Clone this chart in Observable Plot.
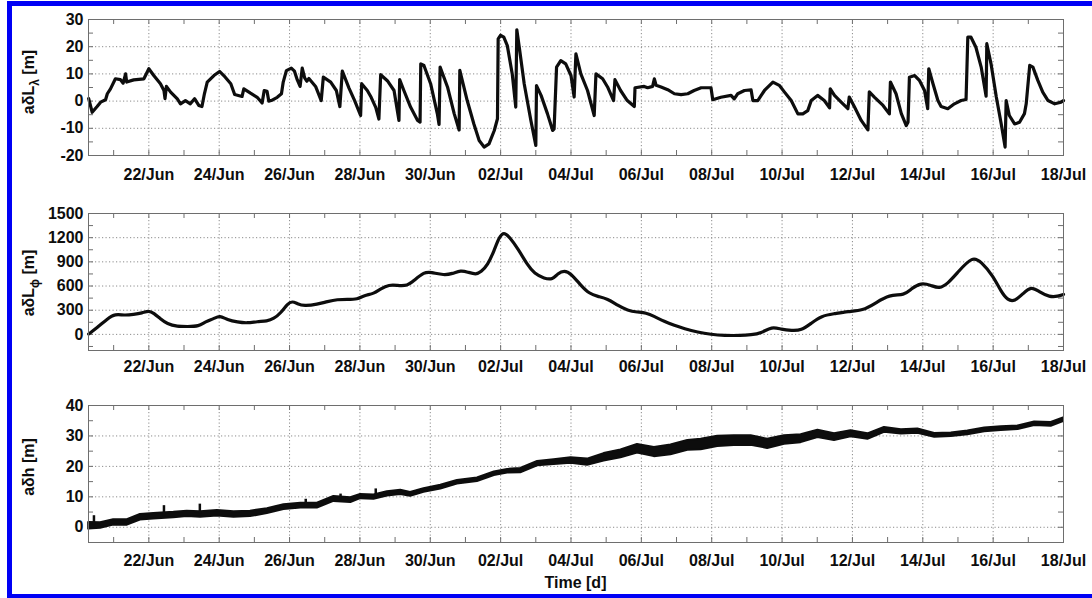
<!DOCTYPE html>
<html><head><meta charset="utf-8">
<script src="https://cdn.jsdelivr.net/npm/d3@7"></script>
<script src="https://cdn.jsdelivr.net/npm/@observablehq/plot@0.6"></script>
<style>
html,body{margin:0;padding:0;background:#fff;}
#wrap{position:relative;width:1092px;height:598px;overflow:hidden;font-family:"Liberation Sans",Arial,sans-serif;}
.panel{position:absolute;left:0;}
#wrap svg text{font-family:"Liberation Sans",Arial,Helvetica,sans-serif !important;font-size:16px !important;font-weight:bold !important;}
#frame{position:absolute;left:7px;top:1px;width:1200px;height:598px;border:5px solid #0000f5;box-sizing:border-box;pointer-events:none;}
</style></head>
<body><div id="wrap">
<div id="p1" class="panel" style="top:0px"></div>
<div id="p2" class="panel" style="top:190px"></div>
<div id="p3" class="panel" style="top:390px"></div>
<div id="frame"></div>
</div>
<script>
// ---- time axis (decimal "June day": 32 = 02 Jul) ----
const xTickDays = [22,24,26,28,30,32,34,36,38,40,42,44,46,48];
const xTickLabels = ["22/Jun","24/Jun","26/Jun","28/Jun","30/Jun","02/Jul","04/Jul","06/Jul","08/Jul","10/Jul","12/Jul","14/Jul","16/Jul","18/Jul"];
const xStart = 20.285, xEnd = 48.0;

// ---- panel 1: a·δL_λ [m] ----
const lonT = [20.29,20.39,20.53,20.63,20.77,20.82,20.91,21.05,21.19,21.27,21.34,21.37,21.57,21.86,22.0,22.14,22.33,22.43,22.46,22.50,22.62,22.81,22.90,23.04,23.18,23.30,23.42,23.51,23.58,23.66,23.85,24.01,24.13,24.33,24.44,24.65,24.70,24.89,25.08,25.22,25.28,25.36,25.41,25.48,25.65,25.77,25.82,25.91,26.05,26.14,26.22,26.30,26.36,26.43,26.49,26.55,26.74,26.90,26.96,27.17,27.33,27.43,27.50,27.69,27.85,28.02,28.05,28.21,28.32,28.45,28.54,28.59,28.78,28.97,29.11,29.13,29.25,29.44,29.64,29.71,29.73,29.82,30.01,30.20,30.25,30.28,30.49,30.68,30.82,30.84,31.05,31.24,31.39,31.53,31.67,31.82,31.91,31.93,32.0,32.09,32.19,32.33,32.43,32.46,32.53,32.67,32.86,33.0,33.02,33.15,33.33,33.48,33.52,33.59,33.71,33.85,34.0,34.09,34.14,34.28,34.47,34.66,34.71,34.90,35.04,35.21,35.25,35.41,35.60,35.80,35.82,36.08,36.18,36.32,36.37,36.42,36.56,36.75,36.94,37.13,37.32,37.5,37.70,37.98,38.03,38.26,38.55,38.64,38.74,38.93,39.12,39.17,39.31,39.50,39.74,39.92,40.07,40.26,40.45,40.59,40.73,40.83,41.01,41.20,41.35,41.37,41.49,41.68,41.87,41.91,42.06,42.25,42.44,42.48,42.63,42.87,43.05,43.08,43.24,43.39,43.53,43.58,43.62,43.77,43.91,44.05,44.14,44.17,44.29,44.43,44.52,44.71,44.90,45.09,45.23,45.28,45.37,45.51,45.66,45.80,45.82,45.94,46.09,46.23,46.34,46.37,46.46,46.61,46.75,46.89,46.94,47.04,47.13,47.27,47.41,47.56,47.75,47.93,48.0];
const lonV = [0.9,-4.1,-2.0,-0.4,0.5,2.7,4.5,8.2,7.9,6.6,10.0,7.0,7.8,8.2,11.9,9.4,6.4,3.9,0.9,5.4,3.3,0.8,-1.0,0.2,-1.0,0.9,-1.6,-2.0,2.7,7.0,9.4,10.9,9.4,6.4,2.4,1.7,4.5,2.9,1.4,-0.7,3.9,3.6,0.0,0.2,1.4,2.7,7.0,11.2,12.1,11.0,7.8,5.4,12.1,8.5,7.3,8.3,5.4,0.2,8.8,7.0,3.9,-2.0,11.0,4.8,0.2,-5.3,6.4,3.9,1.4,-2.3,-6.6,9.7,7.5,3.9,-7.1,7.9,3.9,-2.2,-7.1,-7.7,13.7,13.1,6.4,-4.6,-8.6,12.5,5.2,-4.6,-10.6,11.3,0.2,-8.4,-14.5,-16.9,-15.7,-10.8,-6.5,22.9,24.2,23.5,20.4,10.0,-2.2,26.2,19.8,6.4,-7.1,-16.3,5.7,2.1,-4.6,-10.8,-10.2,12.5,14.9,13.7,9.4,1.5,17.4,10.0,3.9,-5.3,10.0,8.2,5.2,0.2,7.9,3.9,0.2,-2.0,4.9,5.4,4.9,5.4,8.2,5.8,5.2,4.2,2.7,2.4,2.7,3.9,4.9,4.9,0.5,1.4,2.1,0.8,2.7,3.9,4.1,0.2,0.2,3.9,7.0,5.8,3.3,0.2,-4.7,-4.7,-3.5,0.2,2.1,0.2,-2.5,4.5,2.1,-0.4,-2.8,1.5,-2.2,-7.1,-10.6,3.4,1.4,-1.6,-4.7,7.0,2.7,-4.6,-9.0,-7.8,8.8,9.4,7.5,3.9,-2.8,11.9,6.4,0.2,-2.0,-2.8,-1.0,0.2,0.6,23.5,23.5,19.8,12.5,1.8,21.1,13.7,1.5,-8.4,-16.9,0.2,-5.3,-8.4,-7.8,-4.6,-1.0,13.1,12.5,7.6,3.3,0.2,-1.0,-0.4,0.2];
const lonYMajor = [-20,-10,0,10,20,30];
const lonYLabels = ["-20","-10","0","10","20","30"];

// ---- panel 2: a·δL_φ [m] ----
const latT = [20.29,20.53,20.82,21.05,21.29,21.57,21.81,22.0,22.14,22.33,22.52,22.81,23.09,23.42,23.61,23.85,24.01,24.23,24.52,24.80,25.08,25.36,25.55,25.75,25.94,26.08,26.22,26.41,26.79,27.08,27.36,27.64,27.93,28.12,28.40,28.59,28.83,29.06,29.35,29.54,29.83,30.01,30.39,30.63,30.87,31.06,31.30,31.44,31.63,31.82,31.96,32.09,32.25,32.49,32.77,32.96,33.24,33.48,33.62,33.81,34.0,34.28,34.52,34.76,35.04,35.33,35.61,35.89,36.13,36.37,36.65,36.94,37.22,37.60,37.98,38.36,38.83,39.12,39.40,39.71,39.98,40.27,40.55,40.83,41.12,41.49,41.87,42.30,42.63,43.05,43.48,43.67,43.95,44.24,44.47,44.71,45.0,45.42,45.66,45.99,46.23,46.42,46.61,46.85,47.08,47.32,47.60,47.84,48.0];
const latV = [5,82,194,256,235,247,264,297,264,194,131,98,98,98,160,194,235,182,152,139,160,164,194,264,380,413,380,351,372,409,434,434,434,484,505,567,617,608,600,670,774,774,733,754,795,774,741,774,857,1044,1209,1271,1209,1065,857,754,692,679,754,795,754,608,505,471,443,359,297,276,268,223,160,111,70,27,-1,-14,-14,-5,12,98,61,48,48,139,231,256,285,297,380,496,484,567,642,608,567,629,774,973,898,733,525,422,409,505,600,525,463,471,496];
const latYMajor = [0,300,600,900,1200,1500];
const latYLabels = ["0","300","600","900","1200","1500"];

// ---- panel 3: a·δh [m] (centre of the noisy band and its half width) ----
const hT = [20.29,20.63,21.0,21.39,21.76,22.14,22.71,23.09,23.47,23.95,24.42,24.89,25.37,25.84,26.32,26.79,27.26,27.74,28.02,28.40,28.78,29.16,29.44,29.82,30.30,30.77,31.34,31.82,32.20,32.57,33.05,33.52,34.0,34.47,34.94,35.42,35.89,36.37,36.84,37.32,37.70,38.17,38.64,39.12,39.59,40.07,40.54,41.02,41.49,41.96,42.44,42.91,43.39,43.86,44.34,44.81,45.28,45.76,46.23,46.71,47.18,47.65,48.0];
const hV = [0.5,0.6,1.6,1.6,3.3,3.6,4.0,4.4,4.2,4.6,4.2,4.4,5.3,6.6,7.1,7.1,9.3,8.9,10.1,9.9,11.0,11.5,10.8,12.1,13.2,14.8,15.6,17.6,18.4,18.6,20.9,21.4,21.9,21.4,23.0,24.1,25.8,24.7,25.4,26.9,27.2,28.2,28.5,28.5,27.4,28.7,29.1,30.7,29.6,30.7,29.8,32.0,31.3,31.6,30.2,30.4,31.0,32.0,32.4,32.7,34.0,33.8,35.3];
const hW = [1.1,0.9,0.9,0.9,0.9,0.9,0.9,0.9,0.9,0.9,0.9,0.9,0.8,0.8,0.8,0.8,0.8,0.8,0.7,0.7,0.7,0.7,0.6,0.6,0.6,0.6,0.6,0.6,0.6,0.7,0.7,0.8,0.9,1.0,1.2,1.3,1.4,1.5,1.6,1.6,1.7,1.7,1.6,1.6,1.5,1.4,1.3,1.2,1.1,1.0,0.9,0.8,0.7,0.7,0.6,0.6,0.6,0.6,0.6,0.6,0.6,0.6,0.6];
const hSpikeT = [20.44,22.43,23.45,26.46,27.45,28.45];
const hSpikeBase = [0.8,3.8,4.3,7.1,9.0,10.0];
const hSpikeTop = [3.8,7.1,7.6,9.2,10.9,12.6];
const hYMajor = [0,10,20,30,40];
const hYLabels = ["0","10","20","30","40"];

// ---------------------------------------------------------------
const toDate = jd => new Date(Date.UTC(2011, 5, 1) + (jd - 1) * 864e5);
const xDomain = [toDate(xStart), toDate(xEnd)];
const xMajor = xTickDays.map(toDate);
const xMinor = d3.range(21, 49).map(toDate);
const labelOf = d => xTickLabels[xMajor.findIndex(t => +t === +d)];
const INK = "#0d0d0d";
const FONT = "'Liberation Sans', Arial, Helvetica, sans-serif";

function panel({el, height, mt, mb, ydomain, yMajor, yLabels, yMinor, marks, xPad}) {
  const W = 1092, ML = 88, MR = 29;
  const plotH = height - mt - mb, plotW = W - ML - MR;
  const grid = {stroke: "#8c8c8c", strokeDasharray: "1.2,2.3", strokeWidth: 1};
  const tk = {stroke: "#6e6e6e", strokeWidth: 1};
  const svg = Plot.plot({
    width: W, height, marginLeft: ML, marginRight: MR, marginTop: mt, marginBottom: mb,
    style: {background: "transparent", fontFamily: FONT, fontSize: "16px", fontWeight: "bold", color: INK, overflow: "visible"},
    x: {type: "utc", domain: xDomain},
    y: {domain: ydomain},
    marks: [
      Plot.ruleX(xMajor, grid),
      Plot.ruleY(yMajor, grid),
      Plot.ruleX(xMinor, {...tk, insetTop: plotH - 5}),
      Plot.ruleX(xMinor, {...tk, insetBottom: plotH - 5}),
      Plot.ruleY(yMinor, {...tk, insetRight: plotW - 5}),
      Plot.ruleY(yMinor, {...tk, insetLeft: plotW - 5}),
      ...marks,
      Plot.frame({stroke: "#6e6e6e", strokeWidth: 1}),
      Plot.axisX(xMajor, {tickSize: 0, tickPadding: xPad, tickFormat: labelOf, label: null}),
      Plot.axisY(yMajor, {tickSize: 0, tickPadding: 5, label: null,
        tickFormat: d => yLabels[yMajor.indexOf(d)]})
    ]
  });
  document.getElementById(el).appendChild(svg);
  return svg;
}

function yLabel(svg, cy, main, sub, rest) {
  const t = d3.select(svg).append("text")
    .attr("transform", `translate(33.5,${cy}) rotate(-90)`)
    .attr("text-anchor", "middle").attr("fill", INK);
  t.append("tspan").text(main);
  if (sub) t.append("tspan").style("font-size", "12px").attr("dy", 5).text(sub);
  t.append("tspan").attr("dy", sub ? -5 : 0).text(rest);
}

// Panel 1
const lonData = lonT.map((t, i) => ({t: toDate(t), v: lonV[i]}));
const s1 = panel({el: "p1", height: 190, mt: 19, mb: 35, ydomain: [-20, 30], yMajor: lonYMajor, yLabels: lonYLabels,
  yMinor: d3.range(-15, 30, 5), xPad: 13,
  marks: [Plot.line(lonData, {x: "t", y: "v", stroke: INK, strokeWidth: 3.2})]});
yLabel(s1, 82, "aδL", "λ", " [m]");

// Panel 2
const latData = latT.map((t, i) => ({t: toDate(t), v: latV[i]}));
const s2 = panel({el: "p2", height: 195, mt: 23, mb: 35, ydomain: [-200, 1500], yMajor: latYMajor, yLabels: latYLabels,
  yMinor: d3.range(-150, 1500, 150), xPad: 10,
  marks: [Plot.line(latData, {x: "t", y: "v", stroke: INK, strokeWidth: 3.2, curve: "basis"})]});
yLabel(s2, 93, "aδL", "ϕ", " [m]");

// Panel 3
const hData = hT.map((t, i) => ({t: toDate(t), lo: hV[i] - hW[i], hi: hV[i] + hW[i]}));
const spikes = hSpikeT.map((t, i) => ({t: toDate(t), a: hSpikeBase[i], b: hSpikeTop[i]}));
const s3 = panel({el: "p3", height: 208, mt: 15, mb: 56, ydomain: [-5, 40], yMajor: hYMajor, yLabels: hYLabels,
  yMinor: d3.range(-5, 40, 5), xPad: 12,
  marks: [
    Plot.areaY(hData, {x: "t", y1: "lo", y2: "hi", fill: INK, stroke: INK, strokeWidth: 2}),
    Plot.ruleX(spikes, {x: "t", y1: "a", y2: "b", stroke: INK, strokeWidth: 2.5})
  ]});
yLabel(s3, 77, "aδh", null, " [m]");
d3.select(s3).append("text").attr("x", 575.5).attr("y", 198).attr("text-anchor", "middle")
  .attr("fill", INK).text("Time [d]");
</script>
</body></html>
